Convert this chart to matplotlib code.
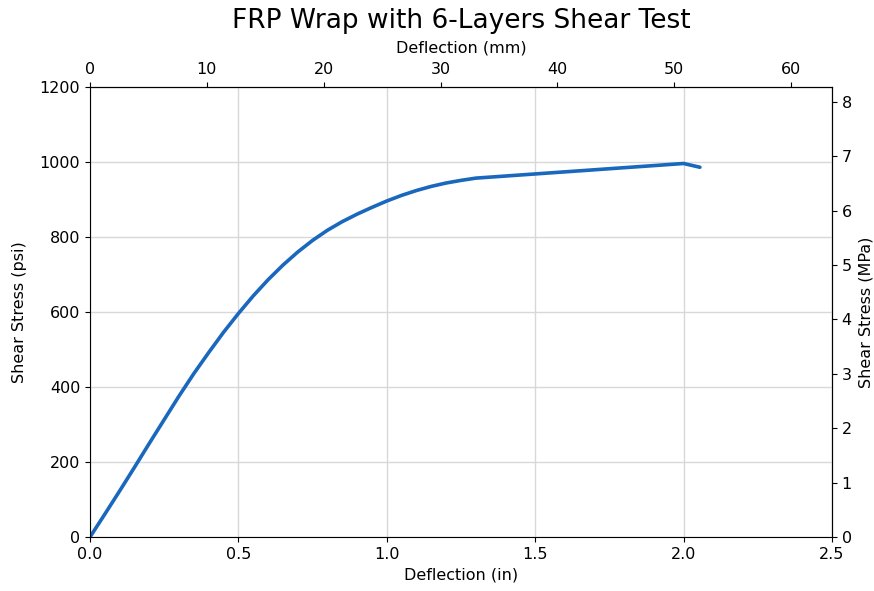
import matplotlib
matplotlib.use("Agg")
import matplotlib.pyplot as plt

# Shear test data: deflection (in) vs. shear stress (psi)
deflection_in = [0.0, 0.05, 0.1, 0.15, 0.2, 0.25, 0.3, 0.35, 0.4, 0.45, 0.5,
                 0.55, 0.6, 0.65, 0.7, 0.75, 0.8, 0.85, 0.9, 0.95, 1.0,
                 1.05, 1.1, 1.15, 1.2, 1.25, 1.3, 2.0, 2.055]
stress_psi = [0, 61, 123, 186, 250, 313, 376, 436, 492, 546, 596,
              643, 686, 725, 760, 791, 818, 841, 861, 879, 896,
              911, 924, 935, 944, 951, 957, 996, 986]

x_ticks = [0.0, 0.5, 1.0, 1.5, 2.0, 2.5]
y_ticks = [0, 200, 400, 600, 800, 1000, 1200]
mm_ticks = [0, 10, 20, 30, 40, 50, 60]
mpa_ticks = [0, 1, 2, 3, 4, 5, 6, 7, 8]

IN_TO_MM = 25.4
PSI_TO_MPA = 0.00689476

FS = 11.5

W, H = 874, 591
fig = plt.figure(figsize=(W / 100, H / 100), dpi=100)
ax = fig.add_axes([90 / W, (H - 537) / H, (832 - 90) / W, (537 - 87) / H])

ax.plot(deflection_in, stress_psi, color="#1a68bd", linewidth=2.6,
        solid_capstyle="round", solid_joinstyle="round")
ax.set_xlim(0, 2.5)
ax.set_ylim(0, 1200)
ax.set_xticks(x_ticks)
ax.set_yticks(y_ticks)
ax.grid(True, color="#d8d8d8", linewidth=1.0)
ax.set_axisbelow(True)
ax.tick_params(labelsize=FS)
ax.set_xlabel("Deflection (in)", fontsize=FS, labelpad=4)
ax.set_ylabel("Shear Stress (psi)", fontsize=FS, labelpad=9)

# Secondary axes in metric units
secx = ax.secondary_xaxis("top", functions=(lambda x: x * IN_TO_MM, lambda x: x / IN_TO_MM))
secx.set_xticks(mm_ticks)
secx.tick_params(labelsize=FS)
secx.set_xlabel("Deflection (mm)", fontsize=FS, labelpad=7)

secy = ax.secondary_yaxis("right", functions=(lambda y: y * PSI_TO_MPA, lambda y: y / PSI_TO_MPA))
secy.set_yticks(mpa_ticks)
secy.tick_params(labelsize=FS)
secy.set_ylabel("Shear Stress (MPa)", fontsize=FS, labelpad=5)

fig.text(461 / W, 1 - 28 / H, "FRP Wrap with 6-Layers Shear Test", fontsize=19,
         ha="center", va="baseline")

fig.savefig("out.png", dpi=100)
